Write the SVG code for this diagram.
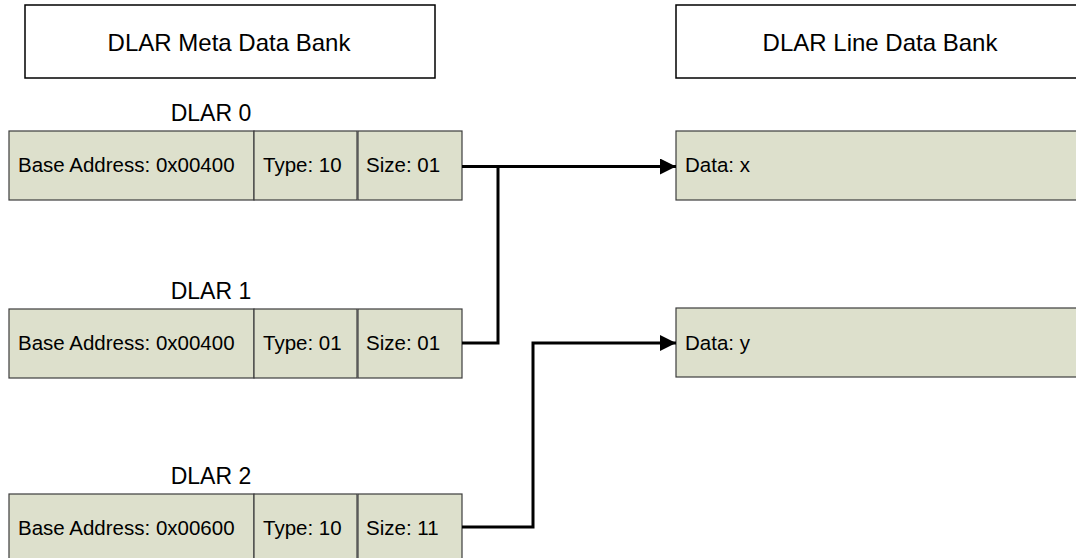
<svg xmlns="http://www.w3.org/2000/svg" width="1076" height="558" viewBox="0 0 1076 558">
  <defs>
    <style>
      .bank { fill: #ffffff; stroke: #000000; stroke-width: 1.5; }
      .cell { fill: #dde0cc; stroke: #3c3c3c; stroke-width: 1.2; }
      .title { font-family: "Liberation Sans", Arial, sans-serif; font-size: 24px; fill: #000000; text-anchor: middle; }
      .label { font-family: "Liberation Sans", Arial, sans-serif; font-size: 23px; fill: #000000; text-anchor: middle; }
      .txt { font-family: "Liberation Sans", Arial, sans-serif; font-size: 20.5px; fill: #000000; }
      .wire { fill: none; stroke: #000000; stroke-width: 3; stroke-linejoin: miter; }
    </style>
    <marker id="arrow" markerUnits="userSpaceOnUse" markerWidth="18" markerHeight="18" refX="16" refY="8" orient="auto">
      <path d="M0,0 L16,8 L0,16 Z" fill="#000000"/>
    </marker>
  </defs>

  <rect width="1076" height="558" fill="#ffffff"/>

  <!-- bank headers -->
  <g id="meta-bank">
    <rect class="bank" x="25" y="5" width="410" height="73"/>
    <text class="title" x="229" y="51">DLAR Meta Data Bank</text>
  </g>
  <g id="line-bank">
    <rect class="bank" x="676" y="5" width="420" height="73"/>
    <text class="title" x="880" y="51">DLAR Line Data Bank</text>
  </g>

  <!-- DLAR entries -->
  <g id="dlar0">
    <text class="label" x="211" y="121">DLAR 0</text>
    <rect class="cell" x="9" y="131" width="245" height="69"/>
    <rect class="cell" x="254" y="131" width="103" height="69"/>
    <rect class="cell" x="358" y="131" width="104" height="69"/>
    <text class="txt" x="18" y="172">Base Address: 0x00400</text>
    <text class="txt" x="263" y="172">Type: 10</text>
    <text class="txt" x="366" y="172">Size: 01</text>
  </g>
  <g id="dlar1">
    <text class="label" x="211" y="299">DLAR 1</text>
    <rect class="cell" x="9" y="309" width="245" height="69"/>
    <rect class="cell" x="254" y="309" width="103" height="69"/>
    <rect class="cell" x="358" y="309" width="104" height="69"/>
    <text class="txt" x="18" y="350">Base Address: 0x00400</text>
    <text class="txt" x="263" y="350">Type: 01</text>
    <text class="txt" x="366" y="350">Size: 01</text>
  </g>
  <g id="dlar2">
    <text class="label" x="211" y="484">DLAR 2</text>
    <rect class="cell" x="9" y="494" width="245" height="69"/>
    <rect class="cell" x="254" y="494" width="103" height="69"/>
    <rect class="cell" x="358" y="494" width="104" height="69"/>
    <text class="txt" x="18" y="535">Base Address: 0x00600</text>
    <text class="txt" x="263" y="535">Type: 10</text>
    <text class="txt" x="366" y="535">Size: 11</text>
  </g>

  <!-- line data entries -->
  <g id="data-x">
    <rect class="cell" x="676" y="131" width="420" height="69"/>
    <text class="txt" x="685" y="172">Data: x</text>
  </g>
  <g id="data-y">
    <rect class="cell" x="676" y="308" width="420" height="69"/>
    <text class="txt" x="685" y="350">Data: y</text>
  </g>

  <!-- connectors -->
  <g id="connectors">
    <path class="wire" d="M462,166.5 L676,166.5" marker-end="url(#arrow)"/>
    <path class="wire" d="M462,343 L498,343 L498,166.5"/>
    <path class="wire" d="M462,527 L533,527 L533,343 L676,343" marker-end="url(#arrow)"/>
  </g>
</svg>
